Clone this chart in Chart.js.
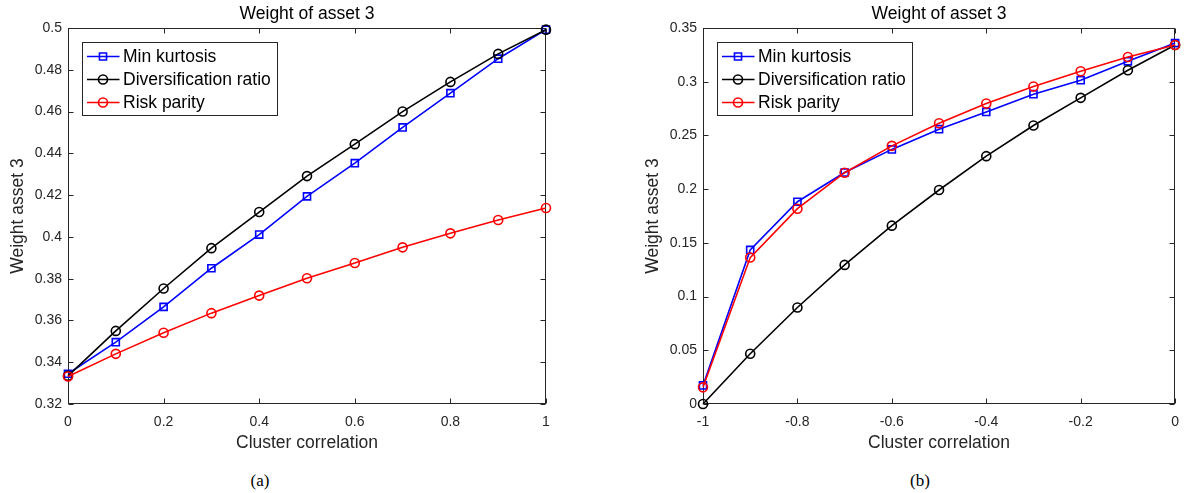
<!DOCTYPE html>
<html>
<head>
<meta charset="utf-8">
<script src="https://cdn.jsdelivr.net/npm/chart.js@4.4.1/dist/chart.umd.min.js"></script>
<style>
  body { margin: 0; background: #fff; }
  #wrap { position: relative; width: 1189px; height: 493px; }
  canvas { position: absolute; top: 0; }
  .cap { position: absolute; top: 471px; font-family: 'Liberation Serif', serif; font-size: 17px; color: #000; transform: translateX(-50%); }
</style>
</head>
<body>
<div id="wrap">
  <canvas id="chartA" width="594" height="460" style="left:0"></canvas>
  <canvas id="chartB" width="595" height="460" style="left:594px"></canvas>
  <div class="cap" style="left:260px">(a)</div>
  <div class="cap" style="left:920px">(b)</div>
</div>
<script>
// x values (cluster correlation)
const corrPos = [0, 0.1, 0.2, 0.3, 0.4, 0.5, 0.6, 0.7, 0.8, 0.9, 1];
const corrNeg = [-1, -0.9, -0.8, -0.7, -0.6, -0.5, -0.4, -0.3, -0.2, -0.1, 0];

// (a) positive correlation
const minKurtA = [0.3345, 0.3496, 0.3665, 0.385, 0.4011, 0.4194, 0.4353, 0.4524, 0.4688, 0.4853, 0.4992];
const divRatioA = [0.3335, 0.355, 0.3753, 0.3946, 0.4119, 0.4291, 0.4444, 0.46, 0.4742, 0.4876, 0.4992];
const riskParA = [0.3332, 0.344, 0.3541, 0.3635, 0.3719, 0.3802, 0.3875, 0.395, 0.4017, 0.4081, 0.4138];

// (b) negative correlation
const minKurtB = [0.0173, 0.1434, 0.1883, 0.2155, 0.237, 0.2558, 0.2719, 0.2884, 0.3014, 0.319, 0.336];
const divRatioB = [0, 0.0468, 0.0898, 0.1295, 0.166, 0.1992, 0.2307, 0.2592, 0.285, 0.3107, 0.3342];
const riskParB = [0.0155, 0.1363, 0.1818, 0.2153, 0.2403, 0.2614, 0.2797, 0.2955, 0.3097, 0.323, 0.3342];

// tick values
const xTicksA = [0, 0.2, 0.4, 0.6, 0.8, 1];
const yTicksA = [0.32, 0.34, 0.36, 0.38, 0.4, 0.42, 0.44, 0.46, 0.48, 0.5];
const xTicksB = [-1, -0.8, -0.6, -0.4, -0.2, 0];
const yTicksB = [0, 0.05, 0.1, 0.15, 0.2, 0.25, 0.3, 0.35];

const seriesNames = ['Min kurtosis', 'Diversification ratio', 'Risk parity'];

const axisColor = '#262626';
const sans = "'Liberation Sans', Arial, sans-serif";

const toPts = (xs, ys) => xs.map((x, i) => ({ x: x, y: ys[i] }));
const fmt = (v) => String(Math.round(v * 1000) / 1000);

// box around the plot + inward ticks on all four sides
const boxTicks = {
  id: 'boxTicks',
  beforeDatasetsDraw(chart) {
    const { ctx, chartArea: a, scales } = chart;
    const L = Math.round(a.left) + 0.5, R = Math.round(a.right) - 0.5;
    const T = Math.round(a.top) + 0.5, B = Math.round(a.bottom) - 0.5;
    const len = 5;
    ctx.save();
    ctx.strokeStyle = axisColor;
    ctx.lineWidth = 1;
    ctx.strokeRect(L, T, R - L, B - T);
    ctx.beginPath();
    scales.x.ticks.forEach(t => {
      const px = Math.round(scales.x.getPixelForValue(t.value)) + 0.5;
      ctx.moveTo(px, B); ctx.lineTo(px, B - len);
      ctx.moveTo(px, T); ctx.lineTo(px, T + len);
    });
    scales.y.ticks.forEach(t => {
      const py = Math.round(scales.y.getPixelForValue(t.value)) + 0.5;
      ctx.moveTo(L, py); ctx.lineTo(L + len, py);
      ctx.moveTo(R, py); ctx.lineTo(R - len, py);
    });
    ctx.stroke();
    ctx.restore();
  }
};

// MATLAB style legend box in the upper left of the axes
const boxLegend = {
  id: 'boxLegend',
  afterDraw(chart) {
    const { ctx, chartArea: a } = chart;
    const x0 = Math.round(a.left) + 14.5, y0 = Math.round(a.top) + 14.5;
    const w = 195, h = 73;
    ctx.save();
    ctx.fillStyle = '#fff';
    ctx.fillRect(x0, y0, w, h);
    ctx.strokeStyle = axisColor;
    ctx.lineWidth = 1;
    ctx.strokeRect(x0, y0, w, h);
    ctx.font = '17.5px ' + sans;
    ctx.textBaseline = 'middle';
    chart.data.datasets.forEach((ds, i) => {
      const cy = y0 + 14 + i * 23;
      ctx.strokeStyle = ds.borderColor;
      ctx.lineWidth = ds.borderWidth;
      ctx.beginPath();
      ctx.moveTo(x0 + 4.5, cy); ctx.lineTo(x0 + 37, cy);
      ctx.stroke();
      ctx.fillStyle = 'rgba(0,0,0,0)';
      ctx.lineWidth = ds.pointBorderWidth;
      Chart.helpers.drawPoint(ctx, {
        pointStyle: ds.pointStyle, radius: ds.pointRadius, rotation: 0, borderWidth: ds.pointBorderWidth
      }, x0 + 20.5, cy);
      ctx.fillStyle = '#000';
      ctx.fillText(ds.label, x0 + 40.5, cy + 1);
    });
    ctx.restore();
  }
};

function makeChart(id, xs, series, xTicks, yTicks, yWidth, padRight, yTitlePad) {
  const styles = [
    { color: '#0000ff', pointStyle: 'rect', r: 5, order: 2 },
    { color: '#000000', pointStyle: 'circle', r: 4.5, order: 1 },
    { color: '#ff0000', pointStyle: 'circle', r: 4.5, order: 0 }
  ];
  const datasets = series.map((ys, i) => ({
    label: seriesNames[i],
    data: toPts(xs, ys),
    borderColor: styles[i].color,
    backgroundColor: styles[i].color,
    borderWidth: 1.6,
    pointStyle: styles[i].pointStyle,
    pointRadius: styles[i].r,
    pointBorderWidth: 1.6,
    pointBackgroundColor: 'rgba(0,0,0,0)',
    pointBorderColor: styles[i].color,
    tension: 0,
    clip: 12,
    order: styles[i].order
  }));

  return new Chart(document.getElementById(id), {
    type: 'line',
    data: { datasets: datasets },
    plugins: [boxTicks, boxLegend],
    options: {
      responsive: false,
      animation: false,
      devicePixelRatio: 1,
      events: [],
      layout: { padding: { left: 0, right: padRight, top: 0, bottom: 0 } },
      plugins: {
        legend: { display: false },
        tooltip: { enabled: false },
        title: {
          display: true,
          text: 'Weight of asset 3',
          color: '#000',
          fullSize: false,
          font: { family: sans, size: 17.5, weight: 'normal', lineHeight: 1.2 },
          padding: { top: 4, bottom: 3 }
        }
      },
      scales: {
        x: {
          type: 'linear',
          min: xTicks[0],
          max: xTicks[xTicks.length - 1],
          afterBuildTicks: (s) => { s.ticks = xTicks.map(v => ({ value: v })); },
          afterFit: (s) => { s.height = 56; },
          grid: { display: false, drawTicks: false, tickLength: 0 },
          border: { display: false },
          ticks: {
            color: axisColor, padding: 10, maxRotation: 0, autoSkip: false,
            font: { family: sans, size: 14 },
            callback: fmt
          },
          title: {
            display: true, text: 'Cluster correlation', color: axisColor,
            font: { family: sans, size: 17.5, lineHeight: 1.2 },
            padding: { top: 0, bottom: 6 }
          }
        },
        y: {
          type: 'linear',
          min: yTicks[0],
          max: yTicks[yTicks.length - 1],
          afterBuildTicks: (s) => { s.ticks = yTicks.map(v => ({ value: v })); },
          afterFit: (s) => { s.width = yWidth; },
          grid: { display: false, drawTicks: false, tickLength: 0 },
          border: { display: false },
          ticks: {
            color: axisColor, padding: 6, autoSkip: false,
            font: { family: sans, size: 14 },
            callback: fmt
          },
          title: {
            display: true, text: 'Weight asset 3', color: axisColor,
            font: { family: sans, size: 17.5, lineHeight: 1.2 },
            padding: { top: yTitlePad, bottom: 0 }
          }
        }
      }
    }
  });
}

makeChart('chartA', corrPos, [minKurtA, divRatioA, riskParA], xTicksA, yTicksA, 68, 48, 7.5);
makeChart('chartB', corrNeg, [minKurtB, divRatioB, riskParB], xTicksB, yTicksB, 109, 8, 48.5);
</script>
</body>
</html>
